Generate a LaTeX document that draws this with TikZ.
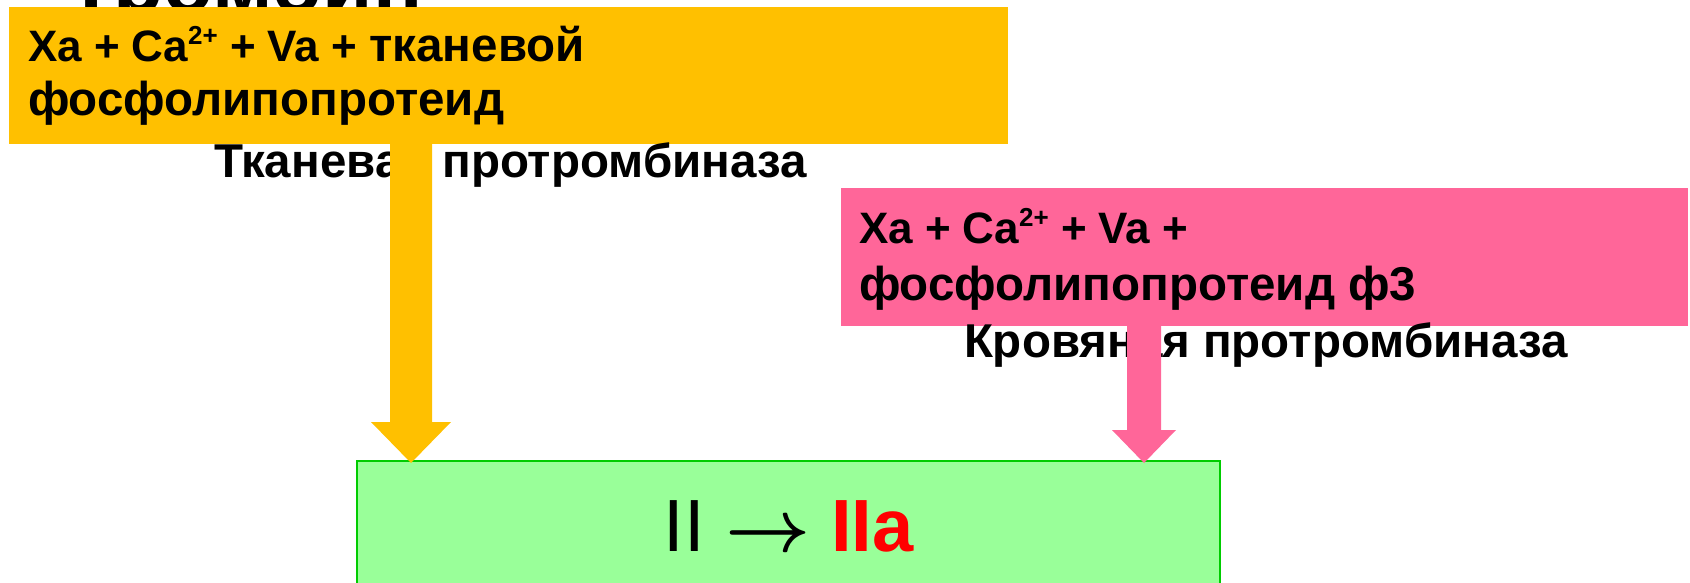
\documentclass[tikz,border=0pt]{standalone}
\usepackage{fix-cm}
\usepackage{fontspec}
\setmainfont{Liberation Sans}
\usetikzlibrary{calc}
\definecolor{orangeC}{HTML}{FFC000}
\definecolor{pinkC}{HTML}{FF6699}
\definecolor{greenF}{HTML}{99FF99}
\definecolor{greenB}{HTML}{00CC00}
\newcommand\cyr{\fontsize{47.5}{53}\selectfont}
\newcommand\supr[1]{\raisebox{17pt}{\fontsize{26}{28}\selectfont #1}}
\begin{document}
\begin{tikzpicture}[x=1pt,y=-1pt,
  panel/.style={rectangle, draw=none, inner sep=0pt, outer sep=0pt, anchor=north west},
  txt/.style={inner sep=0pt, outer sep=0pt, anchor=base west, font=\fontsize{44}{53}\selectfont\bfseries},
  lbl/.style={inner sep=0pt, outer sep=0pt, anchor=base west, font=\fontsize{47.5}{53}\selectfont\bfseries},
]
\path[use as bounding box] (0,0) rectangle (1690,582);
\clip (0,0) rectangle (1690,582);
% partially hidden title
\node[inner sep=0pt, anchor=base west, font=\fontsize{82}{96}\selectfont\bfseries] (title) at (66,12) {Тромбин};
% boxes
\node[panel, fill=orangeC, minimum width=999pt, minimum height=137pt] (obox) at (9,7) {};
\node[panel, fill=pinkC, minimum width=847pt, minimum height=138pt] (pbox) at (841,188) {};
\node[panel, fill=greenF, draw=greenB, line width=2pt, minimum width=863pt, minimum height=160pt] (gbox) at (357,461) {};
% texts
\node[txt] (o1t) at (28,61.7) {Xa + Ca\supr{2+} + Va + {\cyr тканевой}};
\node[lbl] (o2t) at (28,115.5) {фосфолипопротеид};
\node[lbl] (otl) at (214,177) {Тканевая протромбиназа};
\node[txt] (p1t) at (859,243) {Xa + Ca\supr{2+} + Va +};
\node[lbl] (p2t) at (859,300) {фосфолипопротеид ф3};
\node[lbl] (ptl) at (964,357) {Кровяная протромбиназа};
\node[inner sep=0pt, anchor=base, font=\fontsize{74}{80}\selectfont] (conv) at (788.5,551)
  {II {\boldmath$\rightarrow$} \textcolor{red}{\bfseries IIa}};
% block arrows
\coordinate (ox) at (411,0);
\coordinate (px) at (1144,0);
\coordinate (oa) at (obox.south -| ox);
\coordinate (ob) at ($(gbox.north -| ox)+(0,2)$);
\coordinate (pa) at (pbox.south -| px);
\coordinate (pb) at ($(gbox.north -| px)+(0,2)$);
\fill[orangeC] ($(oa)+(-21,0)$) -- ($(oa)+(21,0)$) -- ($(ob)+(21,-41)$) -- ($(ob)+(40,-41)$)
  -- (ob) -- ($(ob)+(-40,-41)$) -- ($(ob)+(-21,-41)$) -- cycle;
\fill[pinkC] ($(pa)+(-17,0)$) -- ($(pa)+(17,0)$) -- ($(pb)+(17,-33)$) -- ($(pb)+(32,-33)$)
  -- (pb) -- ($(pb)+(-32,-33)$) -- ($(pb)+(-17,-33)$) -- cycle;
\end{tikzpicture}
\end{document}
